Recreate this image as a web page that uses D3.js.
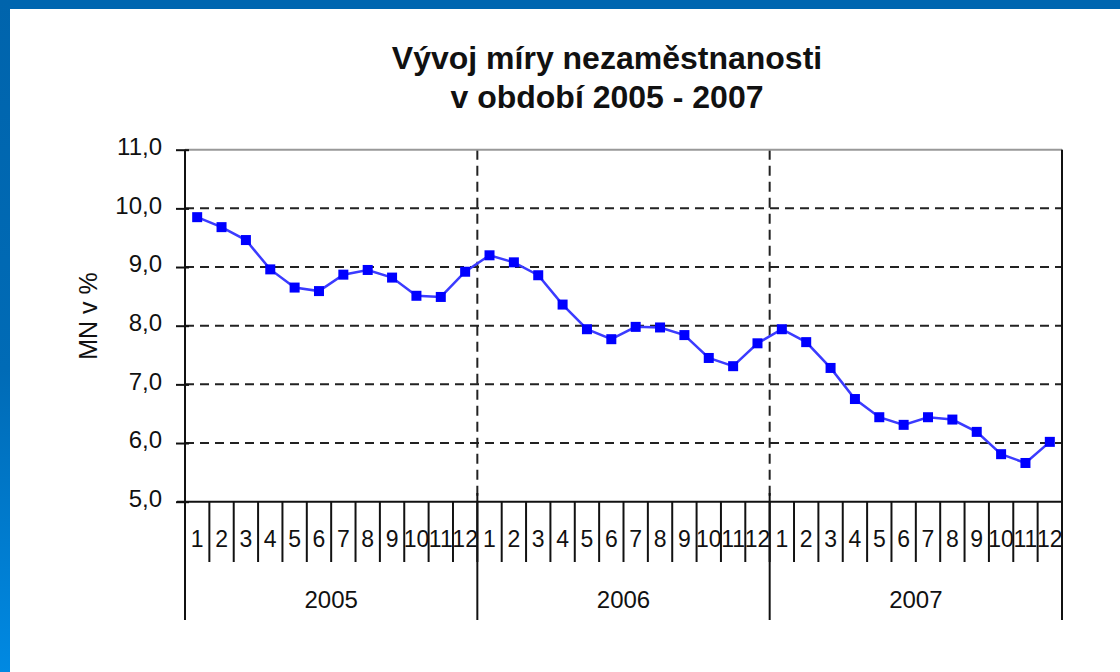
<!DOCTYPE html>
<html>
<head>
<meta charset="utf-8">
<style>
  html, body { margin: 0; padding: 0; background: #fff; }
  svg text { font-family: 'Liberation Sans', Arial, sans-serif; fill: #111; }
</style>
<script src="https://cdn.jsdelivr.net/npm/d3@7"></script>
</head>
<body>
<svg width="1120" height="672"></svg>
<script>
// data
var years = ["2005", "2006", "2007"];
var months = ["1","2","3","4","5","6","7","8","9","10","11","12"];
var mn2005 = [9.85, 9.68, 9.46, 8.96, 8.65, 8.59, 8.87, 8.95, 8.82, 8.51, 8.49, 8.92];
var mn2006 = [9.20, 9.08, 8.86, 8.36, 7.94, 7.77, 7.98, 7.97, 7.84, 7.45, 7.31, 7.70];
var mn2007 = [7.94, 7.72, 7.28, 6.75, 6.44, 6.31, 6.44, 6.40, 6.19, 5.81, 5.66, 6.02];
var yTicks = [5, 6, 7, 8, 9, 10, 11];

var series = [mn2005, mn2006, mn2007];
var data = [];
years.forEach(function(yr, i) {
  months.forEach(function(m, j) {
    data.push({ key: yr + "-" + m, year: yr, month: m, value: series[i][j] });
  });
});

var svg = d3.select("svg");

// blue frame
var defs = svg.append("defs");
var grad = defs.append("linearGradient").attr("id", "side")
    .attr("x1", 0).attr("y1", 0).attr("x2", 0).attr("y2", 1);
grad.append("stop").attr("offset", "0%").attr("stop-color", "#0064ac");
grad.append("stop").attr("offset", "55%").attr("stop-color", "#006bb6");
grad.append("stop").attr("offset", "100%").attr("stop-color", "#0089e2");
svg.append("rect").attr("x", 0).attr("y", 0).attr("width", 1120).attr("height", 9).attr("fill", "#0066b0");
svg.append("rect").attr("x", 0).attr("y", 0).attr("width", 10).attr("height", 672).attr("fill", "url(#side)");

var pLeft = 185, pRight = 1062, pTop = 149.7, pBottom = 501.7;

var x = d3.scaleBand().domain(data.map(function(d) { return d.key; })).range([pLeft, pRight]).padding(0);
var xYear = d3.scaleBand().domain(years).range([pLeft, pRight]).padding(0);
var y = d3.scaleLinear().domain([5, 11]).range([pBottom, pTop]);

// title
var title = svg.append("text").attr("text-anchor", "middle")
    .style("font-size", "32px").style("font-weight", "bold");
title.append("tspan").attr("x", 607).attr("y", 69).text("Vývoj míry nezaměstnanosti");
title.append("tspan").attr("x", 607).attr("y", 108).text("v období 2005 - 2007");

// horizontal gridlines
svg.append("g").selectAll("line")
  .data(yTicks.filter(function(v) { return v > 5 && v < 11; }))
  .enter().append("line")
    .attr("x1", pLeft).attr("x2", pRight)
    .attr("y1", function(d) { return y(d); }).attr("y2", function(d) { return y(d); })
    .attr("stroke", "#222").attr("stroke-width", 2).attr("stroke-dasharray", "9,6");

// year separators inside plot (dashed)
svg.append("g").selectAll("line")
  .data(years.slice(1))
  .enter().append("line")
    .attr("x1", function(d) { return xYear(d); }).attr("x2", function(d) { return xYear(d); })
    .attr("y1", pTop).attr("y2", pBottom)
    .attr("stroke", "#222").attr("stroke-width", 2).attr("stroke-dasharray", "10,6");

// plot frame top and right
svg.append("line").attr("x1", pLeft).attr("x2", pRight).attr("y1", pTop).attr("y2", pTop)
    .attr("stroke", "#999").attr("stroke-width", 2);
svg.append("line").attr("x1", pRight).attr("x2", pRight).attr("y1", pTop).attr("y2", pBottom)
    .attr("stroke", "#999").attr("stroke-width", 2);

// y axis
var yAxis = d3.axisLeft(y).tickValues(yTicks).tickSize(9).tickPadding(14)
    .tickFormat(function(d) { return d3.format(".1f")(d).replace(".", ","); });
var ga = svg.append("g").attr("transform", "translate(" + pLeft + ",0)").call(yAxis);
ga.select(".domain").remove();
ga.selectAll(".tick line").attr("x1", 4).attr("stroke", "#111").attr("stroke-width", 2);
ga.selectAll(".tick text").style("font-size", "24px").attr("dy", "0.2em").attr("fill", "#111");
svg.append("line").attr("x1", pLeft).attr("x2", pLeft).attr("y1", pTop).attr("y2", 620)
    .attr("stroke", "#111").attr("stroke-width", 2);

svg.append("text")
    .attr("transform", "translate(97,316) rotate(-90)")
    .attr("text-anchor", "middle")
    .style("font-size", "25px")
    .text("MN v %");

// x axis: month cells
svg.append("line").attr("x1", 177).attr("x2", pRight).attr("y1", pBottom).attr("y2", pBottom)
    .attr("stroke", "#111").attr("stroke-width", 2);

svg.append("g").selectAll("line")
  .data(data)
  .enter().append("line")
    .attr("x1", function(d) { return x(d.key) + x.bandwidth(); })
    .attr("x2", function(d) { return x(d.key) + x.bandwidth(); })
    .attr("y1", pBottom).attr("y2", 562)
    .attr("stroke", "#111").attr("stroke-width", 2);

svg.append("g").selectAll("text")
  .data(data)
  .enter().append("text")
    .attr("x", function(d) { return x(d.key) + x.bandwidth() / 2; })
    .attr("y", 547)
    .attr("text-anchor", "middle")
    .style("font-size", "23px")
    .text(function(d) { return d.month; });

// year boundaries and labels
svg.append("g").selectAll("line")
  .data(years)
  .enter().append("line")
    .attr("x1", function(d) { return xYear(d) + xYear.bandwidth(); })
    .attr("x2", function(d) { return xYear(d) + xYear.bandwidth(); })
    .attr("y1", function(d, i) { return i < 2 ? 493 : pTop; }).attr("y2", 620)
    .attr("stroke", "#111").attr("stroke-width", 2);

svg.append("g").selectAll("text")
  .data(years)
  .enter().append("text")
    .attr("x", function(d) { return xYear(d) + xYear.bandwidth() / 2; })
    .attr("y", 608)
    .attr("text-anchor", "middle")
    .style("font-size", "24px")
    .text(function(d) { return d; });

// series
var line = d3.line()
    .x(function(d) { return x(d.key) + x.bandwidth() / 2; })
    .y(function(d) { return y(d.value); });

svg.append("path").datum(data)
    .attr("d", line)
    .attr("fill", "none")
    .attr("stroke", "#3b3bff")
    .attr("stroke-width", 2.5);

svg.append("g").selectAll("rect")
  .data(data)
  .enter().append("rect")
    .attr("x", function(d) { return x(d.key) + x.bandwidth() / 2 - 5; })
    .attr("y", function(d) { return y(d.value) - 5; })
    .attr("width", 10).attr("height", 10)
    .attr("fill", "#0000ff");
</script>
</body>
</html>
